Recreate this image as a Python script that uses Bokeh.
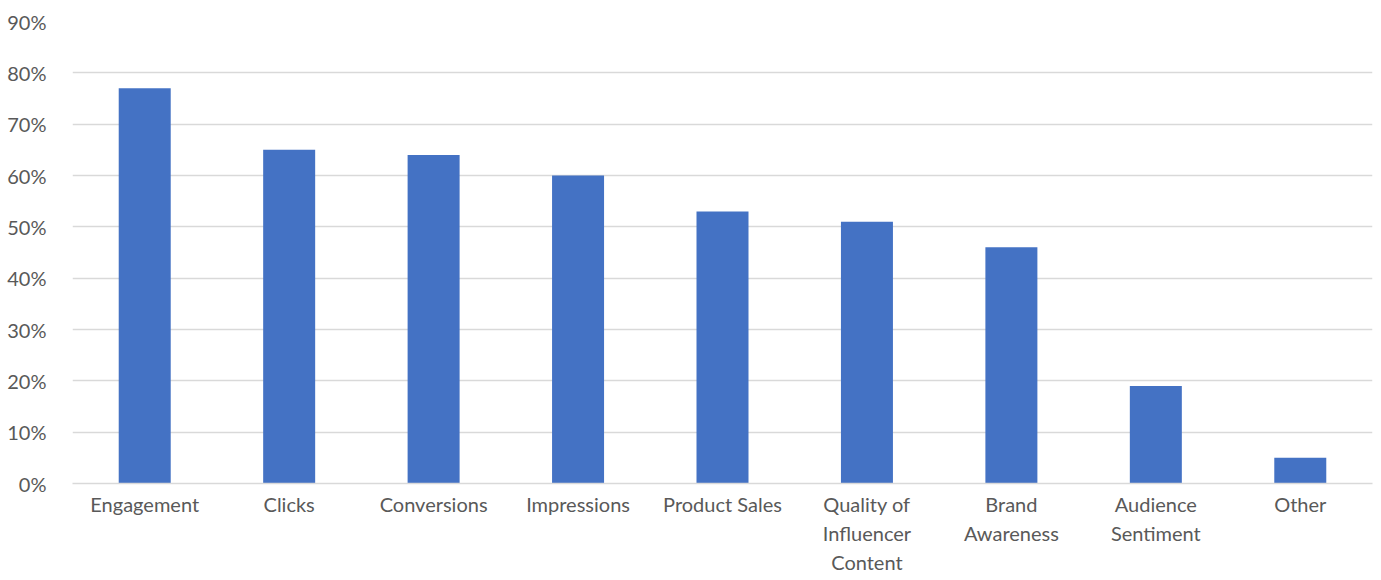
from bokeh.plotting import figure
from bokeh.models import ColumnDataSource, FixedTicker, PrintfTickFormatter, FactorRange, Range1d
from bokeh.embed import file_html
from bokeh.resources import INLINE

categories = ["Engagement", "Clicks", "Conversions", "Impressions", "Product Sales",
              "Quality of\nInfluencer\nContent", "Brand\nAwareness", "Audience\nSentiment", "Other"]
values = [77, 65, 64, 60, 53, 51, 46, 19, 5]
y_ticks = [0, 10, 20, 30, 40, 50, 60, 70, 80, 90]

FONT = "Lato"
TXT = "#595959"

src = ColumnDataSource(dict(cat=categories, val=values))

p = figure(x_range=FactorRange(*categories, range_padding=0), y_range=Range1d(0, 90),
           width=1381, height=580, output_backend="svg", toolbar_location=None,
           min_border_left=72, min_border_right=9, min_border_top=21, min_border_bottom=97)
p.outline_line_color = None
p.background_fill_color = "white"
p.border_fill_color = "white"

p.vbar(x="cat", top="val", width=0.36, source=src, color="#4472C4", line_color=None)

p.xgrid.grid_line_color = None
p.ygrid.grid_line_color = "#d9d9d9"
p.ygrid.grid_line_width = 1.3
p.ygrid.ticker = FixedTicker(ticks=y_ticks)

p.yaxis.ticker = FixedTicker(ticks=y_ticks)
p.yaxis.formatter = PrintfTickFormatter(format="%d%%")
p.yaxis.axis_line_color = None
p.yaxis.major_tick_line_color = None
p.yaxis.minor_tick_line_color = None
p.yaxis.major_label_standoff = 20
p.yaxis.major_label_text_font = FONT
p.yaxis.major_label_text_font_size = "20px"
p.yaxis.major_label_text_color = TXT

p.xaxis.axis_line_color = "#d9d9d9"
p.xaxis.axis_line_width = 1.3
p.xaxis.major_tick_line_color = None
p.xaxis.minor_tick_line_color = None
p.xaxis.major_tick_out = 0
p.xaxis.major_tick_in = 0
p.xaxis.major_label_standoff = 8
p.xaxis.major_label_text_font = FONT
p.xaxis.major_label_text_font_size = "20px"
p.xaxis.major_label_text_color = TXT
p.xaxis.major_label_text_line_height = 1.22

open("out.html", "w").write(file_html(p, INLINE))
